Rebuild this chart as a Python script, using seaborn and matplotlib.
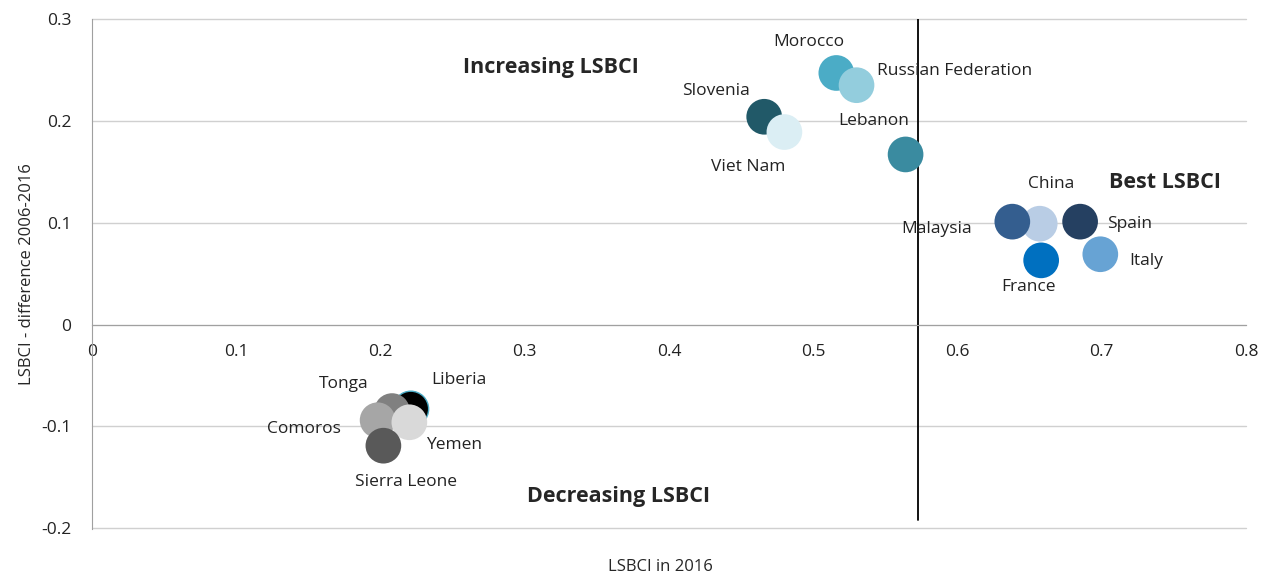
import matplotlib.pyplot as plt
import seaborn as sns
import pandas as pd

# LSBCI 2016 vs change 2006-2016
countries = ["Liberia", "Tonga", "Comoros", "Yemen", "Sierra Leone",
             "Slovenia", "Viet Nam", "Morocco", "Russian Federation", "Lebanon",
             "China", "Malaysia", "Spain", "France", "Italy"]
lsbci_2016 = [0.221, 0.208, 0.198, 0.220, 0.202,
              0.466, 0.480, 0.516, 0.530, 0.564,
              0.657, 0.638, 0.685, 0.658, 0.699]
lsbci_diff = [-0.083, -0.085, -0.094, -0.096, -0.119,
              0.204, 0.189, 0.247, 0.235, 0.167,
              0.099, 0.101, 0.101, 0.063, 0.069]
colors = ["#000000", "#808080", "#A6A6A6", "#D9D9D9", "#595959",
          "#215968", "#DBEEF4", "#4BACC6", "#93CDDD", "#3A8BA0",
          "#B9CDE5", "#345E8F", "#254061", "#0070C0", "#67A3D4"]
# label offsets in pixels from marker centre, and alignment
label_pos = {
    "Liberia": (48, 29, "center"), "Tonga": (-48, 27, "center"),
    "Comoros": (-74, -9, "center"), "Yemen": (45, -23, "center"),
    "Sierra Leone": (23, -36, "center"),
    "Slovenia": (-48, 26, "center"), "Viet Nam": (-36, -35, "center"),
    "Morocco": (-28, 31, "center"), "Russian Federation": (20, 14, "left"),
    "Lebanon": (-32, 33, "center"),
    "China": (11, 40, "center"), "Malaysia": (-76, -7, "center"),
    "Spain": (27, -2, "left"), "France": (-13, -27, "center"),
    "Italy": (29, -7, "left"),
}
split_x = 0.5726

df = pd.DataFrame({"country": countries, "x": lsbci_2016, "y": lsbci_diff})

sns.set_style("white")
plt.rcParams["font.family"] = ["Open Sans", "DejaVu Sans"]

fig = plt.figure(figsize=(12.69, 5.76), dpi=100)
ax = fig.add_axes([92 / 1269, 1 - 529 / 576, 1154 / 1269, 510 / 576])

sns.scatterplot(data=df, x="x", y="y", hue="country",
                palette=dict(zip(countries, colors)), s=660,
                edgecolor=["#4BACC6"] + ["none"] * 14, linewidth=1,
                legend=False, ax=ax, zorder=3)

for c, x, y in zip(countries, lsbci_2016, lsbci_diff):
    dx, dy, ha = label_pos[c]
    ax.annotate(c, (x, y), xytext=(dx, dy), textcoords="offset pixels",
                ha=ha, va="center", fontsize=12.5, color="#222222", zorder=5)

ax.plot([split_x, split_x], [0.3, -0.192], color="black", lw=1.3, zorder=2)

ax.text(0.318, 0.252, "Increasing LSBCI", fontsize=15.5, fontweight="bold", ha="center", va="center")
ax.text(0.744, 0.139, "Best LSBCI", fontsize=15.5, fontweight="bold", ha="center", va="center")
ax.text(0.365, -0.169, "Decreasing LSBCI", fontsize=15.5, fontweight="bold", ha="center", va="center")

ax.set_xlim(0, 0.8)
ax.set_ylim(-0.2008, 0.3)
ax.set_xticks([0, 0.1, 0.2, 0.3, 0.4, 0.5, 0.6, 0.7, 0.8])
ax.set_xticklabels(["0", "0.1", "0.2", "0.3", "0.4", "0.5", "0.6", "0.7", "0.8"])
ax.set_yticks([-0.2, -0.1, 0, 0.1, 0.2, 0.3])
ax.set_yticklabels(["-0.2", "-0.1", "0", "0.1", "0.2", "0.3"])
ax.grid(axis="y", color="#D0D0D0", lw=1)
ax.set_axisbelow(True)
for gl in ax.get_ygridlines():
    gl.set_clip_on(False)

for side in ["top", "right"]:
    ax.spines[side].set_visible(False)
ax.spines["left"].set_color("#A0A0A0")
ax.spines["bottom"].set_color("#A0A0A0")
ax.spines["bottom"].set_position(("data", 0))
ax.tick_params(axis="both", labelsize=12.5, colors="#222222", length=5, color="#A0A0A0")
ax.tick_params(axis="y", pad=10)
ax.tick_params(axis="x", direction="inout", pad=10, length=8)

ax.set_xlabel("")
ax.set_ylabel("LSBCI - difference 2006-2016", fontsize=12, labelpad=4)
fig.text(660 / 1269, 1 - 567 / 576, "LSBCI in 2016", fontsize=12, ha="center", va="center")

fig.savefig("out.png", dpi=100)
